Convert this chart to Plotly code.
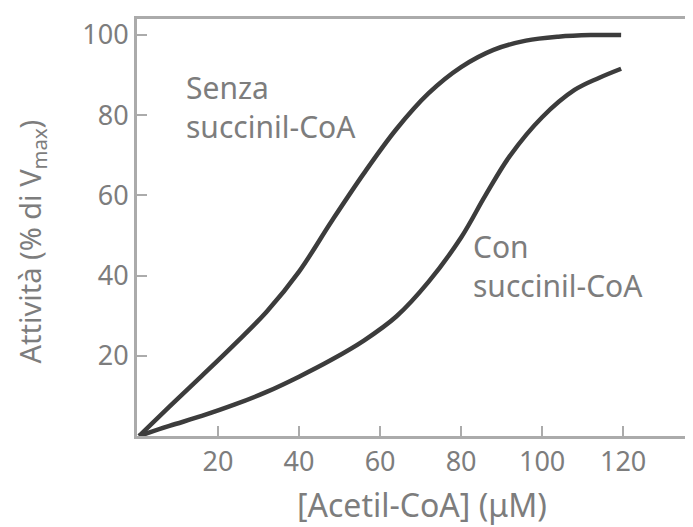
import plotly.graph_objects as go

# Data
senza_x = [0.5, 8, 16, 24, 32, 40, 48, 56, 64, 72, 80, 88, 96, 104, 112, 119.5]
senza_y = [0, 7.3, 15, 22.8, 31, 41, 53.5, 65.5, 76.5, 85.5, 92, 96.3, 98.6, 99.6, 100, 100]

con_x = [0.5, 8, 16, 24, 32, 40, 48, 56, 64, 72, 80, 86, 92, 100, 108, 114, 119.5]
con_y = [0, 2.5, 5, 7.8, 11, 14.8, 19, 23.8, 29.8, 38.5, 49.5, 60, 69.8, 79.5, 86.3, 89.3, 91.6]

x_ticks = [20, 40, 60, 80, 100, 120]
y_ticks = [20, 40, 60, 80, 100]

FONT = "Noto Sans"
TXT = "#7d7d7d"
AX = "#ababab"

fig = go.Figure()
for xs, ys in [(senza_x, senza_y), (con_x, con_y)]:
    fig.add_trace(go.Scatter(x=xs, y=ys, mode="lines",
                             line=dict(color="#3c3c3c", width=4.5, shape="spline", smoothing=1.0),
                             showlegend=False, hoverinfo="skip"))

ann = [
    ("Senza<br>succinil-CoA", 11.5, 82),
    ("Con<br>succinil-CoA", 82.5, 42.5),
]
for t, ax_, ay_ in ann:
    fig.add_annotation(x=ax_, y=ay_, text=t, showarrow=False, xanchor="left", yanchor="middle",
                       align="left", font=dict(family=FONT, size=30, color=TXT))

# y-axis title as rotated text
fig.add_annotation(xref="paper", yref="paper", x=0, y=0.5, xanchor="center", yanchor="middle",
                   xshift=-106, yshift=-14, textangle=-90, showarrow=False,
                   text="Attività (% di V<sub>max</sub>)",
                   font=dict(family=FONT, size=29, color=TXT))

# x-axis title
fig.add_annotation(xref="paper", yref="paper", x=0.5, y=0, xanchor="center", yanchor="middle",
                   xshift=8, yshift=-68, showarrow=False,
                   text="[Acetil-CoA] (μM)",
                   font=dict(family=FONT, size=32, color=TXT))

fig.update_layout(
    width=693, height=527,
    margin=dict(l=129, r=11, t=8, b=99),
    paper_bgcolor="white", plot_bgcolor="white",
    font=dict(family=FONT, color=TXT),
    xaxis=dict(range=[0, 136.5], tickvals=x_ticks, ticktext=[str(v) for v in x_ticks],
               ticks="inside", ticklen=10, tickwidth=2, tickcolor=AX,
               showline=True, linecolor=AX, linewidth=3, mirror=True,
               showgrid=False, zeroline=False,
               tickfont=dict(family=FONT, size=27, color=TXT)),
    yaxis=dict(range=[0, 104], tickvals=y_ticks, ticktext=[str(v) for v in y_ticks],
               ticks="inside", ticklen=10, tickwidth=2, tickcolor=AX,
               showline=True, linecolor=AX, linewidth=3, mirror=True,
               showgrid=False, zeroline=False,
               tickfont=dict(family=FONT, size=27, color=TXT)),
)

fig.write_html("out.html")
